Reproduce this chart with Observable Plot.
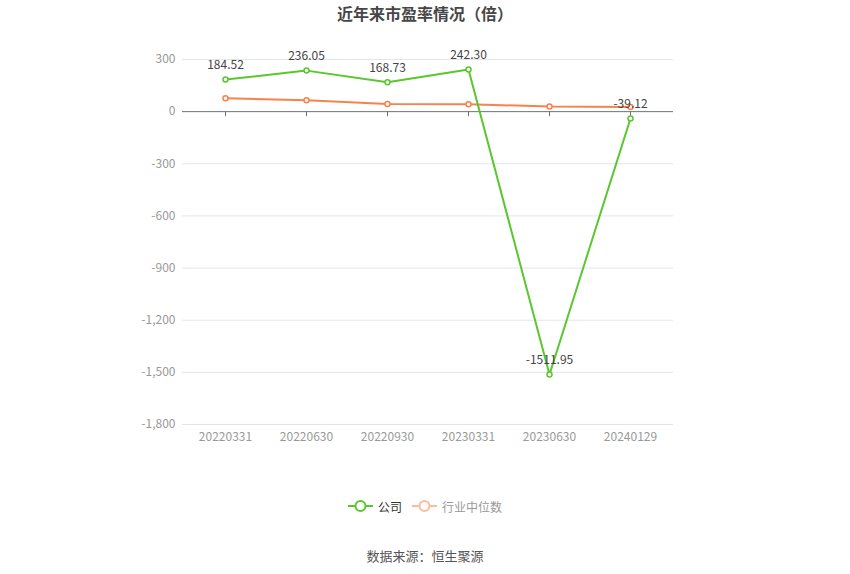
<!DOCTYPE html>
<html><head><meta charset="utf-8">
<script src="https://cdn.jsdelivr.net/npm/d3@7"></script>
<script src="https://cdn.jsdelivr.net/npm/@observablehq/plot@0.6"></script>
<style>
body{margin:0;background:#fff;font-family:"Noto Sans CJK SC","Noto Sans",sans-serif;width:850px;}
#title{height:30px;line-height:26px;text-align:center;font-size:16px;font-weight:bold;color:#464646;}
#legend{height:20px;margin-top:6px;display:flex;justify-content:center;align-items:center;font-size:12px;}
.item{display:flex;align-items:center;margin:0 5px;}
#source{text-align:center;font-size:13px;color:#555;margin-top:30px;line-height:20px;}
</style></head><body>
<div id="title">近年来市盈率情况（倍）</div>
<div id="chart"></div>
<div id="legend"></div>
<div id="source">数据来源：恒生聚源</div>
<script>
const dates = ["20220331","20220630","20220930","20230331","20230630","20240129"];
const company = [184.52, 236.05, 168.73, 242.30, -1511.95, -39.12];
const industry = [77, 66, 44, 43, 29, 26];
const yTicks = [300, 0, -300, -600, -900, -1200, -1500, -1800];
const seriesNames = ["公司", "行业中位数"];
const colors = ["#5ac72e", "#f7834c"];

const compData = dates.map((d, i) => ({date: d, value: company[i]}));
const indData = dates.map((d, i) => ({date: d, value: industry[i]}));
const fmt = v => v.toLocaleString("en-US");

const chart = Plot.plot({
  width: 850,
  height: 460,
  marginLeft: 182,
  marginRight: 177,
  marginTop: 29,
  marginBottom: 66,
  style: {fontFamily: "'Noto Sans CJK SC','Noto Sans',sans-serif", fontSize: "12px", background: "#fff"},
  x: {type: "point", domain: dates, padding: 0.5},
  y: {domain: [-1800, 300], ticks: yTicks},
  marks: [
    Plot.ruleY(yTicks.filter(t => t !== 0), {stroke: "#e0e6f1", strokeWidth: 1}),
    Plot.ruleY([0], {stroke: "#6e7079", strokeWidth: 1}),
    Plot.ruleX(dates, {x: d => d, y1: 0, y2: 0, insetBottom: -5, stroke: "#6e7079"}),
    Plot.axisY({ticks: yTicks, tickSize: 0, tickPadding: 7, tickFormat: fmt, fill: "#999", fontSize: 12, label: null}),
    Plot.axisX({tickSize: 0, tickPadding: 8, fill: "#999", fontSize: 12, label: null}),
    Plot.line(indData, {x: "date", y: "value", stroke: colors[1], strokeWidth: 2}),
    Plot.dot(indData, {x: "date", y: "value", r: 2.5, fill: "#fff", stroke: colors[1], strokeWidth: 1.5}),
    Plot.line(compData, {x: "date", y: "value", stroke: colors[0], strokeWidth: 2}),
    Plot.dot(compData, {x: "date", y: "value", r: 2.5, fill: "#fff", stroke: colors[0], strokeWidth: 1.5}),
    Plot.text(compData, {x: "date", y: "value", text: d => d.value.toFixed(2), dy: -14, fill: "#444", fontSize: 12})
  ]
});
document.getElementById("chart").appendChild(chart);

const legend = document.getElementById("legend");
const legColors = [colors[0], "#fdbca0"];
const textColors = ["#333", "#999"];
seriesNames.forEach((name, i) => {
  const it = document.createElement("div");
  it.className = "item";
  it.innerHTML = `<svg width="25" height="14"><line x1="0" y1="7" x2="25" y2="7" stroke="${legColors[i]}" stroke-width="2"/><circle cx="12.5" cy="7" r="5" fill="#fff" stroke="${legColors[i]}" stroke-width="2"/></svg><span style="margin-left:5px;color:${textColors[i]}">${name}</span>`;
  legend.appendChild(it);
});
</script>
</body></html>
